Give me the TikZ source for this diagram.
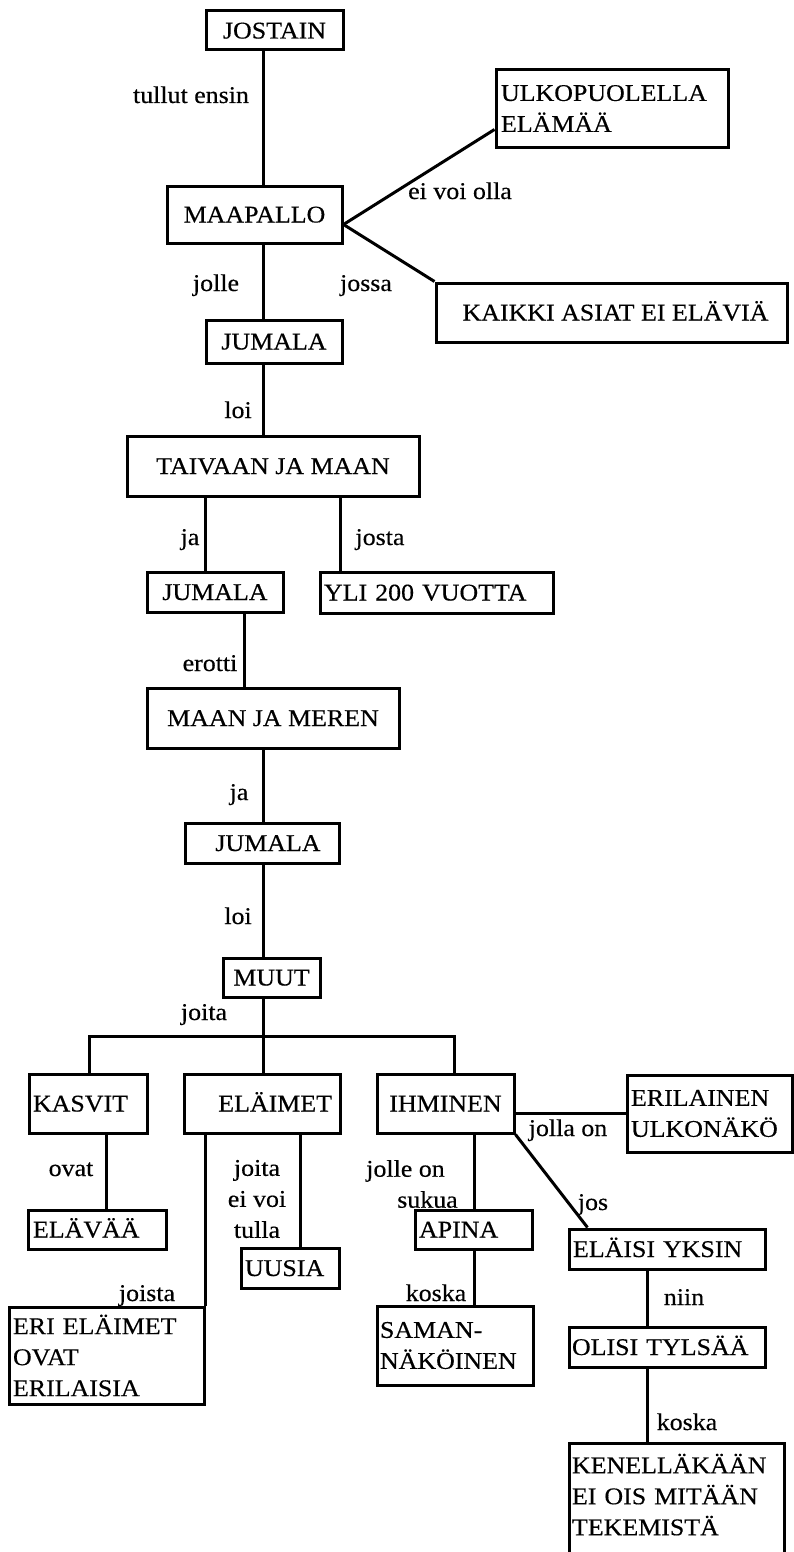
\documentclass[tikz,border=0pt]{standalone}
\usepackage{fontspec}
\setmainfont{Liberation Serif}[FakeStretch=1.08,FakeBold=0.4]
\begin{document}
\begin{tikzpicture}[x=1pt,y=-1pt,
  every node/.style={font=\fontsize{24pt}{31pt}\selectfont},
  box/.style={draw, line width=3pt, inner sep=0pt},
  one/.style={text height=16pt, text depth=0pt},
  lab/.style={inner sep=0pt, text height=16pt, text depth=0pt},
  conn/.style={line width=3pt}]
\fill[white] (0,0) rectangle (793,1552);
\useasboundingbox (0,0) rectangle (793,1552);

% helper coordinates (x positions of vertical connectors)
\coordinate (sp) at (263,0);
\coordinate (xja) at (205,0);
\coordinate (xjosta) at (340,0);
\coordinate (xerotti) at (244,0);
\coordinate (xovat) at (106,0);
\coordinate (xuusia) at (300,0);
\coordinate (xapina) at (474,0);
\coordinate (xniin) at (647,0);
\coordinate (barL) at (89,1036);
\coordinate (barR) at (454,1036);

% boxes
\node[box,one,minimum width=137pt,minimum height=39pt] (jostain) at (274.5,30.5) {JOSTAIN};
\node[box,one,minimum width=175pt,minimum height=57pt] (maapallo) at (254.5,214.5) {MAAPALLO};
\node[box,minimum width=232pt,minimum height=77pt,text width=222pt,align=left] (ulko) at (612,108.5) {ULKOPUOLELLA\\ELÄMÄÄ};
\node[box,one,minimum width=351pt,minimum height=59pt] (kaikki) at (611.5,312.5) {\hspace*{8pt}KAIKKI ASIAT EI ELÄVIÄ};
\node[box,one,minimum width=136pt,minimum height=43pt] (jumala1) at (274,341.5) {JUMALA};
\node[box,one,minimum width=292pt,minimum height=60pt] (taivaan) at (273,466) {TAIVAAN JA MAAN};
\node[box,one,minimum width=136pt,minimum height=40pt] (jumala2) at (215,592) {JUMALA};
\node[box,one,minimum width=233pt,minimum height=41pt,text width=225pt,align=left] (yli) at (436.5,592.5) {YLI 200 VUOTTA};
\node[box,one,minimum width=252pt,minimum height=60pt] (maan) at (273,718) {MAAN JA MEREN};
\node[box,one,minimum width=154pt,minimum height=40pt] (jumala3) at (262,843) {\hspace*{12pt}JUMALA};
\node[box,one,minimum width=97pt,minimum height=39pt] (muut) at (271.5,977.5) {MUUT};
\node[box,one,minimum width=118pt,minimum height=59pt,text width=110pt,align=left] (kasvit) at (88,1103.5) {KASVIT};
\node[box,one,minimum width=156pt,minimum height=59pt,text width=140pt,align=right] (elaimet) at (262,1103.5) {ELÄIMET};
\node[box,one,minimum width=137pt,minimum height=59pt] (ihminen) at (445.5,1103.5) {IHMINEN};
\node[box,minimum width=165pt,minimum height=77pt,text width=157pt,align=left] (erilainen) at (709.5,1113.5) {ERILAINEN\\ULKONÄKÖ};
\node[box,one,minimum width=138pt,minimum height=39pt,text width=128pt,align=left] (elavaa) at (97,1229.5) {ELÄVÄÄ};
\node[box,one,minimum width=98pt,minimum height=40pt,text width=90pt,align=left] (uusia) at (290,1268) {UUSIA};
\node[box,minimum width=195pt,minimum height=97pt,text width=187pt,align=left] (eri) at (106.5,1355.5) {ERI ELÄIMET\\OVAT\\ERILAISIA};
\node[box,one,minimum width=117pt,minimum height=39pt,text width=109pt,align=left] (apina) at (473.5,1229.5) {APINA};
\node[box,minimum width=156pt,minimum height=79pt,text width=150pt,align=left] (saman) at (455,1345.5) {SAMAN-\\NÄKÖINEN};
\node[box,one,minimum width=196pt,minimum height=40pt,text width=188pt,align=left] (elaisi) at (667,1249) {ELÄISI YKSIN};
\node[box,one,minimum width=196pt,minimum height=40pt,text width=190pt,align=left] (olisi) at (667,1347) {OLISI TYLSÄÄ};
\node[box,minimum width=215pt,minimum height=134pt,text width=209pt,align=left] (ken) at (676.5,1510) {KENELLÄKÄÄN\\EI OIS MITÄÄN\\TEKEMISTÄ\\\mbox{}};

% connectors
\draw[conn] (jostain.south -| sp) -- (maapallo.north -| sp);
\draw[conn] ([yshift=-10pt]maapallo.east) -- ([yshift=-21pt]ulko.west);
\draw[conn] ([yshift=-10pt]maapallo.east) -- (kaikki.north west);
\draw[conn] (maapallo.south -| sp) -- (jumala1.north -| sp);
\draw[conn] (jumala1.south -| sp) -- (taivaan.north -| sp);
\draw[conn] (taivaan.south -| xja) -- (jumala2.north -| xja);
\draw[conn] (taivaan.south -| xjosta) -- (yli.north -| xjosta);
\draw[conn] (jumala2.south -| xerotti) -- (maan.north -| xerotti);
\draw[conn] (maan.south -| sp) -- (jumala3.north -| sp);
\draw[conn] (jumala3.south -| sp) -- (muut.north -| sp);
\draw[conn] (muut.south -| sp) -- (elaimet.north -| sp);
\draw[conn] (kasvit.north -| barL) -- (barL) -- (barR) -- (ihminen.north -| barR);
\draw[conn] (ihminen.east |- erilainen.west) -- (erilainen.west);
\draw[conn] (kasvit.south -| xovat) -- (elavaa.north -| xovat);
\draw[conn] (elaimet.south -| eri.north east) -- (eri.north east);
\draw[conn] (elaimet.south -| xuusia) -- (uusia.north -| xuusia);
\draw[conn] (ihminen.south -| xapina) -- (apina.north -| xapina);
\draw[conn] (apina.south -| xapina) -- (saman.north -| xapina);
\draw[conn] (ihminen.south east) -- ([xshift=20pt]elaisi.north west);
\draw[conn] (elaisi.south -| xniin) -- (olisi.north -| xniin);
\draw[conn] (olisi.south -| xniin) -- (ken.north -| xniin);

% labels
\node[lab] (l1) at (191,95) {tullut ensin};
\node[lab] (l2) at (460,191) {ei voi olla};
\node[lab] (l3) at (216,283) {jolle};
\node[lab] (l4) at (366,283) {jossa};
\node[lab] (l5) at (238,410) {loi};
\node[lab] (l6) at (190,537) {ja};
\node[lab] (l7) at (380,537) {josta};
\node[lab] (l8) at (210,663) {erotti};
\node[lab] (l9) at (239,792) {ja};
\node[lab] (l10) at (238,916) {loi};
\node[lab] (l11) at (204,1012) {joita};
\node[lab] (l12) at (568,1128) {jolla on};
\node[lab] (l13) at (71,1168) {ovat};
\node[inner sep=0pt,align=center] (l14) at (257,1199) {joita\\ei voi\\tulla};
\node[inner sep=0pt,align=right] (l15) at (412,1184) {jolle on\hspace*{13pt}\\sukua};
\node[lab] (l16) at (147,1293) {joista};
\node[lab] (l17) at (436,1293) {koska};
\node[lab] (l18) at (593,1202) {jos};
\node[lab] (l19) at (684,1297) {niin};
\node[lab] (l20) at (687,1422) {koska};
\end{tikzpicture}
\end{document}
